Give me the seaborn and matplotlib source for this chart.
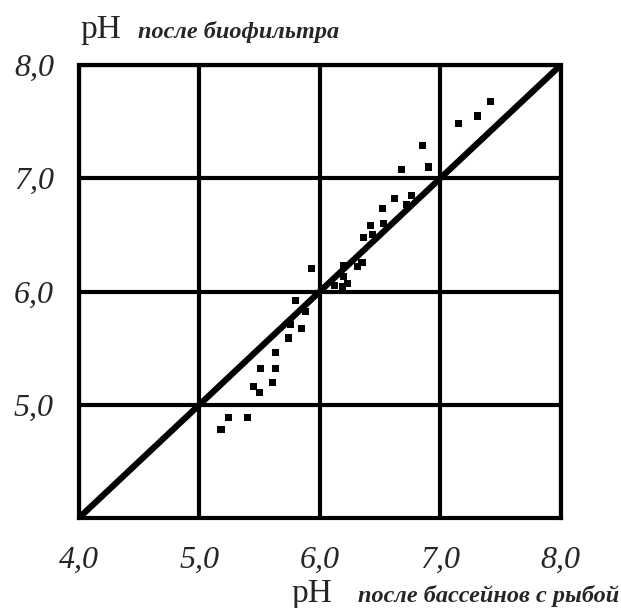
import matplotlib
matplotlib.use('Agg')
import matplotlib.pyplot as plt
from matplotlib.font_manager import FontProperties
import seaborn as sns
import pandas as pd

# pH values
ph_pool = [5.18, 5.24, 5.40, 5.45, 5.50, 5.51, 5.61, 5.63, 5.63, 5.74, 5.76, 5.85,
           5.88, 5.80, 5.93, 6.12, 6.19, 6.23, 6.20, 6.20, 6.31, 6.35, 6.36, 6.44,
           6.42, 6.53, 6.52, 6.72, 6.76, 6.62, 6.68, 6.90, 6.85, 7.15, 7.31, 7.42]
ph_filter = [4.78, 4.89, 4.89, 5.16, 5.11, 5.32, 5.20, 5.32, 5.46, 5.59, 5.71, 5.67,
             5.82, 5.92, 6.20, 6.05, 6.04, 6.07, 6.13, 6.23, 6.22, 6.26, 6.48, 6.50,
             6.58, 6.60, 6.73, 6.77, 6.85, 6.82, 7.08, 7.10, 7.29, 7.48, 7.55, 7.68]
line_x = [4.0, 8.0]
line_y = [4.0, 8.0]
x_ticks = [4.0, 5.0, 6.0, 7.0, 8.0]
y_ticks = [5.0, 6.0, 7.0, 8.0]

df = pd.DataFrame({'pool': ph_pool, 'filter': ph_filter})
df_line = pd.DataFrame({'x': line_x, 'y': line_y})

sns.set_style('white')
plt.rcParams['font.family'] = ['Liberation Serif', 'DejaVu Serif']

tick_font = FontProperties(family='Liberation Serif', style='italic', size=23)
title_font = FontProperties(family='Liberation Serif', style='italic', weight='bold', size=17.5)

fig = plt.figure(figsize=(6.21, 6.08), dpi=100)
ax = fig.add_axes([0.127, 0.148, 0.776, 0.745])

ax.grid(True, color='black', linewidth=3)
ax.set_axisbelow(True)
sns.lineplot(data=df_line, x='x', y='y', ax=ax, color='black', linewidth=4.5)
sns.scatterplot(data=df, x='pool', y='filter', ax=ax, color='black', s=26,
                marker='s', edgecolor='none', zorder=3)

ax.set_xlim(4, 8)
ax.set_ylim(4, 8)
ax.tick_params(axis='x', length=0, pad=20)
ax.tick_params(axis='y', length=0, pad=18)
ax.set_xticks(x_ticks)
ax.set_yticks(y_ticks)
ax.set_xticklabels([f'{v:.1f}'.replace('.', ',') for v in x_ticks], fontproperties=tick_font)
ax.set_yticklabels([f'{v:.1f}'.replace('.', ',') for v in y_ticks], fontproperties=tick_font)
ax.set_xlabel('')
ax.set_ylabel('')
for sp in ax.spines.values():
    sp.set_color('black')
    sp.set_linewidth(3)

fig.text(0.13, 0.9375, 'pH', fontsize=24, va='baseline')
fig.text(0.222, 0.9375, 'после биофильтра', fontproperties=title_font, va='baseline')
fig.text(0.47, 0.01, 'pH', fontsize=24, va='baseline')
fig.text(0.997, 0.01, 'после бассейнов с рыбой', fontproperties=title_font,
         va='baseline', ha='right')

fig.savefig('out.png', dpi=100)
